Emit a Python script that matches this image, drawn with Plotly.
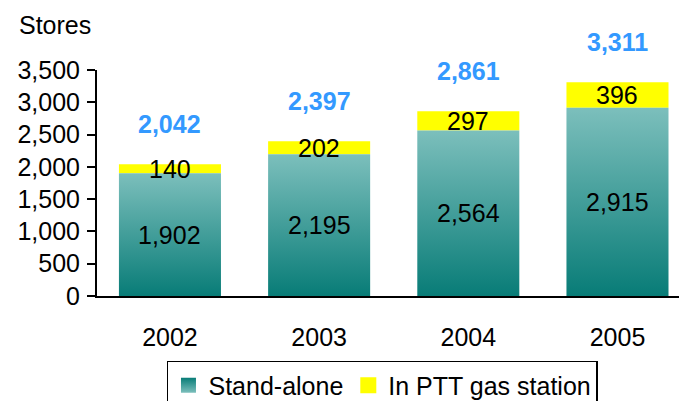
import plotly.graph_objects as go

years = ["2002", "2003", "2004", "2005"]
standalone = [1902, 2195, 2564, 2915]
ptt = [140, 202, 297, 396]
totals = [a + b for a, b in zip(standalone, ptt)]
y_ticks = [0, 500, 1000, 1500, 2000, 2500, 3000, 3500]

TEAL_TOP = "#7cbfbc"
TEAL_BOT = "#087c77"
YELLOW = "#ffff00"
BLUE = "#3399ff"
FONT = "Liberation Sans, Arial, sans-serif"
FS = 25
BW = 0.684

xs = list(range(len(years)))
fig = go.Figure()

# legend entries
fig.add_trace(go.Scatter(
    x=[None], y=[None], mode="markers", name="Stand-alone",
    marker=dict(symbol="square", size=15, color=TEAL_BOT,
                gradient=dict(type="vertical", color=TEAL_TOP)),
))
fig.add_trace(go.Scatter(
    x=[None], y=[None], mode="markers", name="In PTT gas station",
    marker=dict(symbol="square", size=16, color=YELLOW),
))

# stand-alone bars with vertical gradient
for i, v in zip(xs, standalone):
    fig.add_trace(go.Scatter(
        x=[i - BW / 2, i + BW / 2, i + BW / 2, i - BW / 2, i - BW / 2],
        y=[0, 0, v, v, 0],
        mode="none", fill="toself", showlegend=False, hoverinfo="skip",
        fillgradient=dict(type="vertical",
                          colorscale=[[0, TEAL_BOT], [1, TEAL_TOP]]),
    ))

# PTT segments
fig.add_trace(go.Bar(
    x=xs, y=ptt, base=standalone, width=BW, marker=dict(color=YELLOW, line=dict(width=0)),
    showlegend=False, hoverinfo="skip",
))

ann = []
for i in xs:
    ann.append(dict(x=i, y=standalone[i] / 2, text=f"{standalone[i]:,}", showarrow=False,
                    font=dict(size=FS, color="black", family=FONT), xref="x", yref="y"))
    ann.append(dict(x=i, y=standalone[i] + ptt[i] / 2, text=f"{ptt[i]:,}", showarrow=False,
                    font=dict(size=FS, color="black", family=FONT), xref="x", yref="y"))
    ann.append(dict(x=i, y=totals[i], yshift=40, text=f"<b>{totals[i]:,}</b>", showarrow=False,
                    font=dict(size=FS, color=BLUE, family=FONT), xref="x", yref="y"))
ann.append(dict(x=(17 - 97) / 590, y=(296 - 25) / 226, xref="paper", yref="paper",
                text="Stores", showarrow=False, xanchor="left", yanchor="middle",
                font=dict(size=FS, color="black", family=FONT)))

# page body has an 8px margin: figure is offset by 8px, so shrink and shift to match
fig.update_layout(
    width=679, height=420,
    margin=dict(l=89, r=0, t=62, b=132),
    paper_bgcolor="white", plot_bgcolor="white",
    font=dict(family=FONT, size=FS, color="black"),
    showlegend=True,
    legend=dict(orientation="h", x=0.1186, y=-0.2876, xanchor="left", yanchor="top",
                bordercolor="black", borderwidth=1.5, font=dict(size=FS),
                bgcolor="white"),
    annotations=ann,
    xaxis=dict(range=[-0.489, 3.466], tickvals=xs, ticktext=years, showgrid=False,
               zeroline=False, showline=True, linecolor="black", linewidth=2,
               ticks="", ticklabelstandoff=18, fixedrange=True),
    yaxis=dict(range=[0, 3500], tickvals=y_ticks, ticktext=[f"{v:,}" for v in y_ticks],
               showgrid=False, zeroline=False, showline=True, linecolor="black",
               linewidth=2, ticks="outside", ticklen=8, tickwidth=1.5, tickcolor="black",
               ticklabelstandoff=2, fixedrange=True),
)

fig.write_html("out.html")
